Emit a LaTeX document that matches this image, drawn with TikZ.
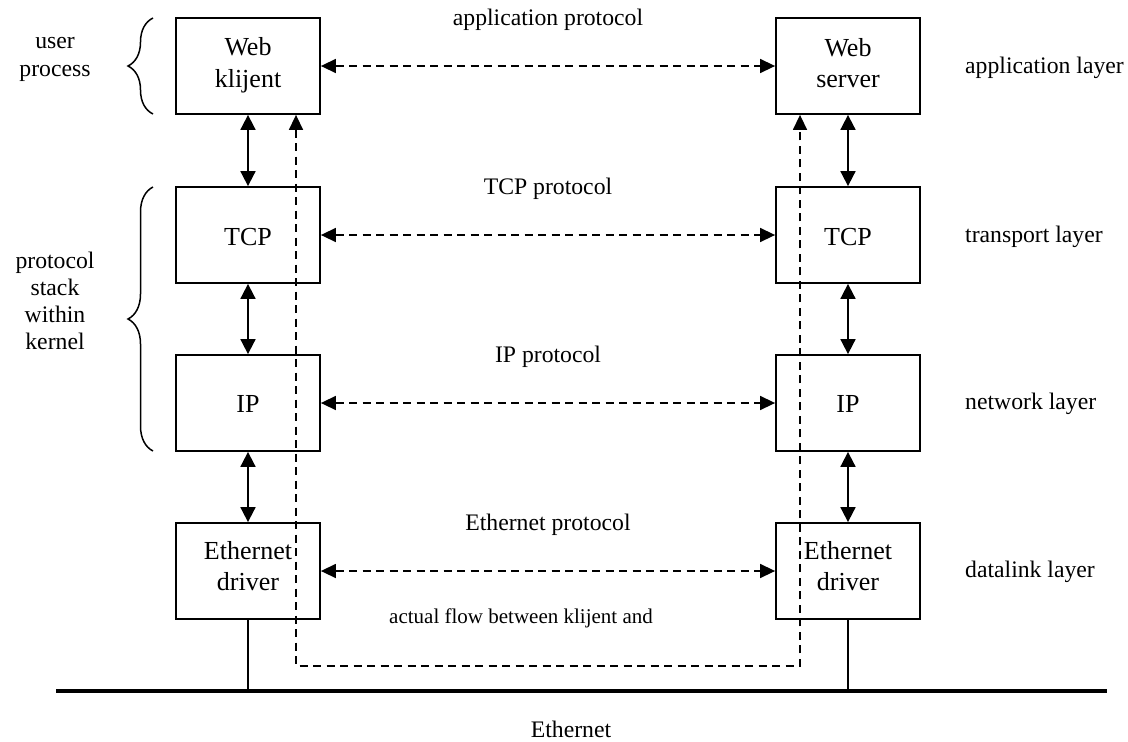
\documentclass[tikz,border=0pt]{standalone}
\usepackage{fontspec}
\setmainfont{Liberation Serif}
\usetikzlibrary{arrows.meta,decorations.pathreplacing}
\begin{document}
\begin{tikzpicture}[x=1pt,y=-1pt,
  box/.style={draw,line width=1.8pt,minimum width=144pt,minimum height=96pt,inner sep=0pt},
  boxtext/.style={font=\fontsize{26}{31.5}\selectfont,align=center,inner sep=0pt},
  lbl/.style={font=\fontsize{23.7}{27.5}\selectfont,align=center,inner sep=0pt},
  small/.style={font=\fontsize{21}{25}\selectfont,inner sep=0pt},
  solidarrow/.style={line width=1.8pt,{Triangle[length=15pt,width=15pt]}-{Triangle[length=15pt,width=15pt]}},
  dasharrow/.style={line width=1.5pt,dash pattern=on 8pt off 5.5pt,{Triangle[length=15pt,width=14pt]}-{Triangle[length=15pt,width=14pt]}},
  bracestyle/.style={line width=1.5pt,decorate,decoration={brace,amplitude=25pt}},
  bus/.style={line width=4.5pt},
  drop/.style={line width=1.5pt}
]
\useasboundingbox (0,0) rectangle (1128,742);

% boxes
\node[box] (wc) at (248,66) {};
\node[box] (tl) at (248,235) {};
\node[box] (il) at (248,403) {};
\node[box] (el) at (248,571) {};
\node[box] (ws) at (848,66) {};
\node[box] (tr) at (848,235) {};
\node[box] (ir) at (848,403) {};
\node[box] (er) at (848,571) {};

% box texts
\node[boxtext] (wcT) at (248,65) {Web\\klijent};
\node[boxtext] (tlT) at (248,237) {TCP};
\node[boxtext] (ilT) at (248,404) {IP};
\node[boxtext] (elT) at (248,566) {Ethernet\\driver};
\node[boxtext] (wsT) at (848,63) {Web\\server};
\node[boxtext] (trT) at (848,237) {TCP};
\node[boxtext] (irT) at (848,404) {IP};
\node[boxtext] (erT) at (848,566) {Ethernet\\driver};

% vertical solid arrows
\draw[solidarrow] (wc.south) -- (tl.north);
\draw[solidarrow] (tl.south) -- (il.north);
\draw[solidarrow] (il.south) -- (el.north);
\draw[solidarrow] (ws.south) -- (tr.north);
\draw[solidarrow] (tr.south) -- (ir.north);
\draw[solidarrow] (ir.south) -- (er.north);

% horizontal dashed arrows
\draw[dasharrow] (wc.east) -- (ws.west);
\draw[dasharrow] (tl.east) -- (tr.west);
\draw[dasharrow] (il.east) -- (ir.west);
\draw[dasharrow] (el.east) -- (er.west);

% actual flow
\coordinate (fl) at (296,666);
\coordinate (fr) at (800,666);
\draw[dasharrow] (wc.south -| fl) -- (fl) -- (fr) -- (ws.south -| fr);

% ethernet bus
\coordinate (busL) at (56,691);
\coordinate (busR) at (1107,691);
\draw[bus] (busL) -- (busR);
\draw[drop] (el.south) -- (el.south |- busL);
\draw[drop] (er.south) -- (er.south |- busL);

% braces
\coordinate (b1a) at (153,114);
\coordinate (b1b) at (153,18);
\coordinate (b2a) at (153,451);
\coordinate (b2b) at (153,187);
\draw[bracestyle] (b1a) -- (b1b);
\draw[bracestyle] (b2a) -- (b2b);

% labels
\node[lbl,font=\fontsize{23.7}{28}\selectfont] (up) at (55,59) {user\\process};
\node[lbl,font=\fontsize{23.7}{27}\selectfont] (ps) at (55,301) {protocol\\stack\\within\\kernel};
\node[lbl] (ap) at (548,20) {application protocol};
\node[lbl] (tp) at (548,189) {TCP protocol};
\node[lbl] (ipp) at (548,357) {IP protocol};
\node[lbl] (ep) at (548,525) {Ethernet protocol};
\node[small] (af) at (521,618) {actual flow between klijent and};
\node[lbl] (eth) at (571,729) {Ethernet};
\node[lbl,anchor=west] (al) at (965,68) {application layer};
\node[lbl,anchor=west] (tpl) at (965,237) {transport layer};
\node[lbl,anchor=west] (nl) at (965,404) {network layer};
\node[lbl,anchor=west] (dl) at (965,572) {datalink layer};
\end{tikzpicture}
\end{document}
